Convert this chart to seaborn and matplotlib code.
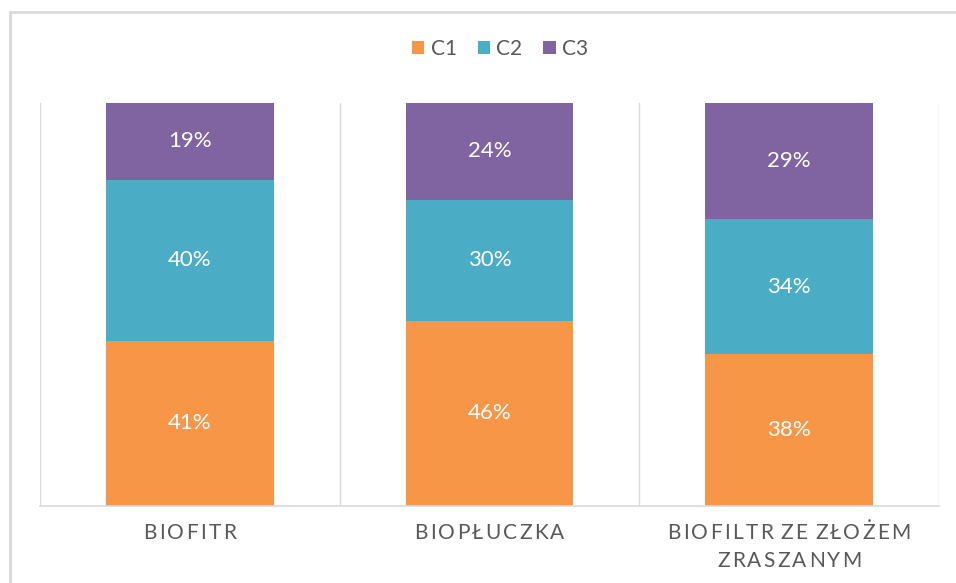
import matplotlib
matplotlib.use('Agg')
import matplotlib.pyplot as plt
from matplotlib.lines import Line2D
from matplotlib.patches import Patch
import seaborn as sns
import numpy as np
import pandas as pd

# data (100% stacked)
categories = ["BIOFITR", "BIOPŁUCZKA", "BIOFILTR ZE ZŁOŻEM\nZRASZANYM"]
series = ["C1", "C2", "C3"]
c1 = [41, 46, 38]
c2 = [40, 30, 34]
c3 = [19, 24, 29]
colors = ["#F79646", "#4BACC6", "#8064A2"]

sns.set_theme(style="white")
plt.rcParams["font.family"] = ["Lato", "DejaVu Sans"]

df = pd.DataFrame({"category": categories, "C1": c1, "C2": c2, "C3": c3})
totals = df[series].sum(axis=1)
shares = df[series].div(totals, axis=0) * 100

fig = plt.figure(figsize=(9.56, 5.83), dpi=100)
ax = fig.add_axes([40 / 956, 1 - 506 / 583, 899 / 956, 403 / 583])

bottom = np.zeros(len(categories))
for name, col in zip(series, colors):
    sns.barplot(x=df["category"], y=shares[name], color=col, width=0.56,
                bottom=bottom, ax=ax, saturation=1, linewidth=0)
    cont = ax.containers[-1]
    ax.bar_label(cont, labels=[f"{v}%" for v in df[name]], label_type="center",
                 color="white", fontsize=16)
    bottom += shares[name].values

ax.set_xlim(-0.5, len(categories) - 0.5)
ax.set_ylim(0, 100)
ax.set_xlabel("")
ax.set_ylabel("")
ax.set_yticks([])
ax.set_xticks(np.arange(-0.5, len(categories)), minor=True)
ax.grid(which="minor", axis="x", color="#D9D9D9", linewidth=1)
ax.tick_params(axis="x", which="both", length=0, labelbottom=False)
for side in ["top", "left", "right"]:
    ax.spines[side].set_visible(False)
ax.spines["bottom"].set_color("#D9D9D9")
ax.spines["bottom"].set_linewidth(1.2)

# category labels with letter spacing, drawn one character at a time
renderer = fig.canvas.get_renderer()
label_size = 15
spacing_px = 2.3
line_gap_px = 28
for i, cat in enumerate(categories):
    for j, line in enumerate(cat.split("\n")):
        widths = []
        for ch in line:
            t = fig.text(0, 0, ch if ch != " " else "I", fontsize=label_size)
            w = t.get_window_extent(renderer).width
            t.remove()
            widths.append(w * 0.5 if ch == " " else w)
        total = sum(widths) + spacing_px * (len(line) - 1)
        x = -total / 2
        for ch, w in zip(line, widths):
            if ch != " ":
                ax.annotate(ch, xy=(i, 0), xycoords=("data", "axes fraction"),
                            xytext=((x + w / 2) * 0.72, -(27 + j * line_gap_px) * 0.72),
                            textcoords="offset points", ha="center", va="center",
                            fontsize=label_size, color="#595959",
                            annotation_clip=False)
            x += w + spacing_px

handles = [Patch(facecolor=c, edgecolor="none") for c in colors]
fig.legend(handles, series, loc="center", bbox_to_anchor=(500 / 956, 1 - 49 / 583),
           ncol=3, frameon=False, fontsize=15, labelcolor="#595959",
           handlelength=0.6, handleheight=0.6, handletextpad=0.3,
           columnspacing=1.0)

# chart area frame (partly cut off in the screenshot)
fig.add_artist(Line2D([10 / 956, 10 / 956], [0, 1 - 12 / 583],
                      transform=fig.transFigure, color="#D9D9D9", lw=2))
fig.add_artist(Line2D([10 / 956, 1], [1 - 12 / 583, 1 - 12 / 583],
                      transform=fig.transFigure, color="#D9D9D9", lw=2))

fig.savefig("out.png", dpi=100, facecolor="white")
